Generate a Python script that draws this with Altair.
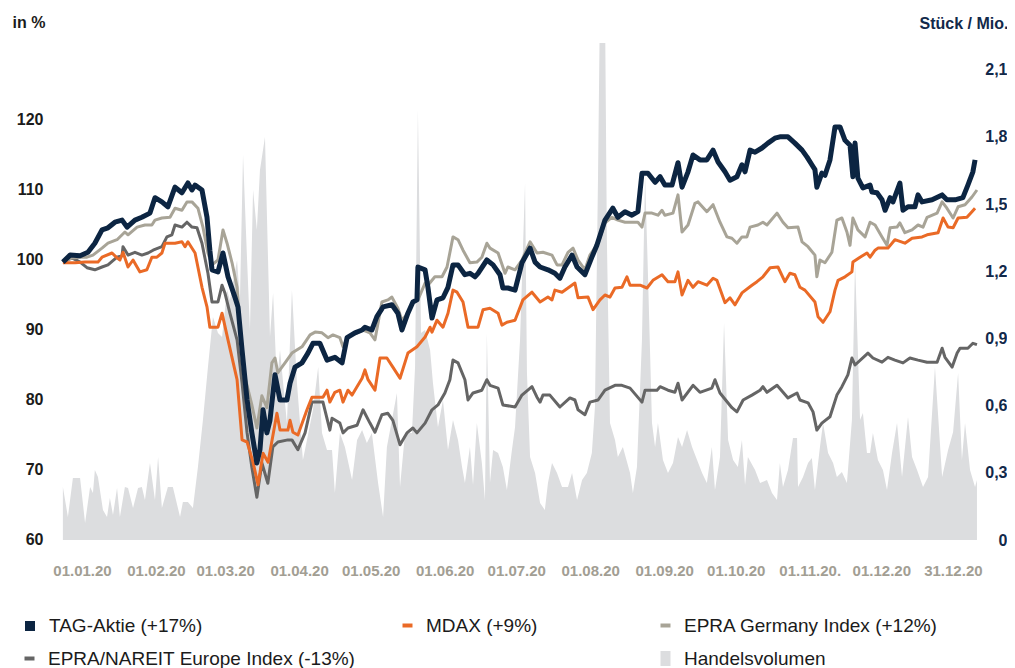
import altair as alt
import pandas as pd

# ---- data: (days since 01.01.2020, value) ----
tag = [(-8.0,99.7),(-5.0,100.7),(-0.8,100.6),(2.5,101.1),(5.4,102.4),(8.4,104.3),(10.9,104.6),(13.8,105.4),(16.8,105.7),(18.9,104.7),(22.2,105.7),(25.1,106.1),(28.5,106.7),(30.6,108.9),(33.5,108.3),(36.0,107.6),(39.0,110.4),(41.9,109.6),(44.4,111.0),(46.1,110.0),(47.4,110.7),(50.3,110.0),(52.4,106.1),(53.6,101.4),(54.5,98.6),(57.0,98.3),(59.1,101.0),(61.2,97.6),(64.1,94.7),(65.4,93.3),(67.1,87.1),(69.2,80.0),(71.2,75.3),(73.3,71.0),(74.6,72.9),(75.9,78.6),(77.5,75.3),(78.8,77.1),(80.9,83.6),(83.0,80.0),(85.9,80.0),(87.2,82.4),(89.3,84.7),(92.2,85.3),(94.7,86.7),(96.8,88.1),(99.7,88.1),(102.7,85.7),(106.0,86.1),(109.0,85.3),(111.1,88.9),(114.4,89.6),(117.4,90.0),(118.6,90.4),(121.5,90.0),(123.6,91.9),(126.2,93.3),(129.9,93.6),(132.4,92.4),(134.1,90.0),(136.6,92.4),(138.7,94.0),(140.4,94.3),(140.8,99.0),(143.8,98.6),(145.0,96.1),(146.7,91.7),(148.8,94.3),(151.3,94.6),(153.4,96.1),(155.5,99.3),(157.6,99.3),(160.5,97.9),(162.6,98.1),(164.7,97.6),(166.0,98.1),(169.7,100.0),(172.3,99.3),(175.2,97.9),(176.4,96.0),(178.5,96.0),(181.5,95.7),(184.4,99.6),(187.8,101.7),(189.9,99.7),(192.0,99.0),(195.3,98.6),(198.2,98.1),(200.3,97.4),(202.4,99.0),(205.4,100.7),(207.5,99.0),(210.8,97.9),(213.7,100.4),(215.8,102.1),(219.2,105.7),(222.5,107.4),(224.6,106.1),(227.6,106.9),(230.5,106.4),(233.0,106.9),(234.7,112.4),(237.2,112.4),(240.2,111.1),(242.3,111.9),(244.3,110.7),(247.3,110.7),(249.8,113.9),(251.5,110.4),(254.0,112.6),(256.1,115.0),(259.0,114.3),(261.9,114.3),(264.5,115.7),(266.6,114.0),(269.5,112.6),(271.6,111.4),(274.5,111.9),(276.6,113.6),(277.9,112.6),(280.0,115.7),(282.1,115.4),(285.0,116.0),(287.5,116.7),(290.4,117.4),(292.5,117.6),(295.9,117.6),(298.8,116.7),(301.8,115.7),(303.9,114.7),(305.9,113.6),(307.2,112.9),(308.0,110.4),(310.1,112.4),(311.4,112.1),(313.5,114.3),(315.6,119.0),(317.7,119.0),(319.8,117.1),(321.9,116.4),(323.1,111.9),(324.0,116.7),(325.2,111.7),(327.3,110.3),(330.3,110.7),(331.1,109.7),(333.2,109.6),(335.3,108.6),(336.6,107.1),(338.7,108.9),(339.9,108.3),(342.8,111.0),(344.1,107.1),(346.2,107.6),(349.1,107.6),(350.4,109.3),(352.1,108.3),(356.3,108.6),(360.5,109.3),(362.5,108.6),(365.9,108.6),(369.2,108.9),(371.3,110.7),(373.4,112.6),(374.3,114.3)]

mdax = [(-8.0,99.6),(-2.9,99.6),(1.3,99.7),(6.7,99.7),(8.4,100.4),(12.6,101.0),(14.7,100.3),(15.9,100.0),(17.2,101.1),(19.3,99.0),(21.4,100.0),(24.3,98.3),(27.2,98.6),(29.3,100.4),(31.4,100.4),(33.5,101.0),(34.8,102.4),(39.0,102.4),(41.9,102.6),(43.2,101.9),(44.4,102.6),(47.4,101.0),(50.3,96.1),(52.4,93.3),(53.6,90.4),(57.0,90.4),(58.7,92.4),(61.2,88.6),(65.0,82.9),(67.1,74.3),(69.2,74.0),(71.7,71.1),(73.8,67.9),(75.9,72.4),(78.0,71.1),(81.7,78.1),(83.0,75.7),(86.3,75.7),(87.2,77.1),(88.4,75.4),(90.5,75.0),(94.3,78.6),(96.4,80.4),(101.0,80.4),(102.7,81.4),(103.9,79.7),(106.0,81.1),(108.1,81.4),(109.4,79.7),(111.5,81.4),(113.2,80.7),(117.4,83.1),(118.6,84.3),(119.9,82.9),(122.8,81.4),(124.9,86.0),(127.8,86.0),(130.3,84.7),(133.3,83.1),(136.6,86.7),(140.4,87.6),(143.8,89.0),(145.9,90.4),(146.7,89.7),(148.8,91.4),(151.3,90.4),(153.4,92.4),(155.5,95.7),(157.2,95.4),(159.7,94.0),(161.8,90.4),(166.0,90.4),(168.1,92.9),(171.0,93.1),(174.4,92.4),(176.0,90.7),(178.1,91.1),(181.5,91.4),(184.8,94.3),(188.6,95.4),(192.0,94.0),(195.3,94.7),(197.0,94.3),(198.2,95.7),(201.2,95.4),(206.6,96.7),(207.9,94.6),(212.1,94.7),(214.2,92.9),(217.1,94.3),(219.2,95.0),(221.3,94.7),(223.4,96.0),(226.3,96.1),(228.4,97.6),(229.7,96.4),(233.9,96.4),(236.8,96.0),(239.3,97.1),(243.1,97.9),(245.6,96.9),(248.5,96.9),(249.8,98.3),(251.5,95.0),(254.0,97.1),(256.1,96.1),(258.2,96.9),(261.9,96.4),(264.5,97.4),(266.1,97.1),(269.5,93.9),(271.6,94.6),(273.7,93.6),(276.6,95.3),(280.8,96.4),(282.9,96.9),(285.4,97.6),(288.4,98.9),(291.7,99.0),(294.6,96.9),(296.7,98.1),(298.8,97.9),(300.9,96.1),(303.0,95.7),(307.2,94.0),(308.5,91.9),(310.6,91.1),(313.5,92.6),(315.6,95.7),(316.9,97.1),(319.8,97.6),(322.7,98.3),(323.1,99.7),(326.1,100.4),(329.0,101.0),(330.3,100.4),(332.4,101.4),(333.6,101.7),(337.8,101.7),(340.7,102.9),(344.9,102.4),(347.9,103.1),(352.1,103.3),(354.2,103.6),(358.8,103.9),(360.9,106.0),(363.0,104.7),(365.1,104.6),(367.2,106.0),(370.9,106.1),(373.0,106.9),(374.3,107.4)]

epra_de = [(-8.0,99.7),(-4.2,100.3),(-0.8,100.4),(2.1,100.4),(4.6,100.7),(8.4,101.7),(10.9,102.4),(14.7,102.9),(18.0,104.0),(19.3,103.6),(23.1,104.7),(26.4,105.0),(29.3,105.0),(30.6,105.7),(33.5,106.0),(36.9,106.1),(39.0,107.4),(41.9,107.1),(44.0,108.3),(46.1,108.3),(48.6,107.4),(50.7,104.7),(52.8,101.0),(54.5,99.3),(57.0,100.0),(59.1,104.3),(60.8,102.4),(62.9,99.6),(65.0,96.1),(66.2,90.4),(68.3,83.3),(71.2,79.3),(73.3,76.0),(75.4,80.6),(77.5,78.9),(79.6,85.3),(80.9,86.0),(82.1,83.9),(85.1,85.3),(88.0,86.7),(92.2,87.6),(95.6,89.3),(97.7,89.7),(100.6,89.6),(103.1,88.9),(105.2,89.3),(108.1,88.9),(109.4,87.6),(111.5,89.0),(115.3,89.6),(117.8,90.0),(120.7,89.6),(122.8,88.6),(125.7,94.0),(128.2,94.3),(129.9,94.7),(132.4,93.1),(134.1,91.4),(136.6,92.4),(138.7,93.9),(140.8,94.3),(143.8,96.7),(145.0,96.4),(147.9,97.6),(150.9,97.6),(153.0,99.0),(155.5,103.3),(157.6,102.9),(159.7,101.4),(162.6,99.6),(165.5,99.7),(167.6,100.4),(169.7,102.4),(171.0,101.7),(174.4,101.0),(177.3,98.1),(178.5,99.0),(181.5,98.6),(184.4,100.0),(187.8,102.6),(190.7,101.0),(193.2,101.1),(197.0,100.7),(199.1,99.3),(201.2,99.3),(203.7,101.1),(205.8,101.7),(207.9,100.0),(210.8,98.6),(212.9,100.7),(216.3,102.4),(219.2,105.3),(222.1,106.1),(224.6,105.7),(227.6,105.4),(233.0,105.4),(234.7,104.7),(236.0,106.7),(238.9,106.7),(241.4,106.4),(243.1,107.1),(244.3,106.4),(247.7,106.7),(249.8,109.3),(251.5,104.0),(254.0,105.0),(256.9,108.1),(258.2,108.3),(261.9,106.9),(264.5,107.9),(267.4,105.4),(270.3,103.3),(272.4,103.1),(274.5,102.4),(276.6,103.3),(278.7,103.3),(280.0,104.7),(283.3,105.0),(285.4,105.4),(287.1,105.0),(291.3,106.7),(293.8,105.4),(295.9,104.6),(300.1,104.7),(301.8,102.6),(304.3,101.9),(307.2,100.7),(308.0,97.6),(309.3,100.0),(311.4,99.6),(314.3,101.1),(316.4,105.7),(318.5,106.0),(320.6,104.0),(321.9,102.1),(323.1,106.0),(325.2,104.3),(328.2,103.3),(330.3,105.4),(332.4,105.0),(335.3,103.3),(337.4,102.1),(338.7,104.6),(341.6,104.7),(342.8,105.3),(344.9,103.9),(347.9,104.3),(350.4,105.0),(352.5,104.7),(354.2,106.1),(358.4,106.7),(360.5,108.3),(362.5,107.4),(365.1,106.0),(367.2,107.6),(370.1,107.9),(373.0,109.0),(375.1,110.0)]

nareit = [(-8.0,99.7),(-4.2,100.3),(-0.8,99.7),(2.1,98.9),(5.4,98.6),(8.4,99.0),(10.9,99.3),(14.7,100.4),(16.8,100.6),(17.2,101.9),(19.3,100.7),(22.2,101.1),(25.1,100.7),(27.7,101.0),(29.8,101.4),(33.5,101.9),(35.6,103.3),(37.7,103.6),(39.0,105.0),(41.9,104.7),(44.0,105.4),(46.1,104.7),(48.2,104.6),(50.3,102.4),(52.8,98.1),(54.5,94.0),(57.0,94.0),(58.7,96.4),(59.9,95.3),(62.0,92.4),(65.0,88.6),(67.1,82.4),(69.2,75.3),(71.2,70.4),(73.3,66.1),(75.4,71.0),(77.9,68.1),(80.0,73.3),(82.1,74.0),(86.3,74.3),(88.0,74.3),(90.5,72.9),(93.5,75.3),(96.4,79.7),(101.0,79.7),(103.9,75.7),(104.8,77.4),(108.1,76.7),(109.4,75.3),(111.5,76.0),(115.3,76.4),(117.8,78.6),(120.7,76.7),(122.8,75.4),(125.7,77.9),(128.2,78.1),(130.3,77.1),(133.3,73.6),(136.2,75.3),(138.7,76.0),(140.4,75.3),(143.8,76.7),(146.7,78.6),(149.2,79.3),(152.1,81.0),(154.2,82.9),(155.5,85.7),(157.6,85.3),(160.5,82.9),(161.8,80.0),(163.9,81.0),(167.6,81.4),(169.7,82.9),(171.0,82.1),(174.4,81.7),(176.4,79.3),(181.5,79.0),(184.4,80.7),(188.6,81.9),(190.7,80.4),(192.0,79.7),(193.2,80.7),(196.1,80.7),(200.3,79.0),(204.5,80.3),(206.6,80.0),(207.9,78.6),(210.8,77.9),(212.9,79.7),(216.3,80.0),(219.2,81.4),(223.4,82.1),(226.3,82.1),(229.7,81.7),(234.7,79.7),(236.0,81.4),(241.0,81.4),(242.3,81.9),(245.6,81.4),(248.5,81.1),(249.8,82.4),(251.5,80.0),(256.1,82.1),(259.0,81.1),(264.0,81.7),(265.3,82.9),(267.4,81.0),(272.4,78.9),(274.5,78.3),(277.1,80.0),(280.8,80.7),(284.2,81.4),(285.4,81.9),(287.1,81.1),(291.3,82.1),(295.9,80.3),(299.7,81.0),(300.9,80.0),(304.3,79.6),(306.4,78.3),(308.0,75.7),(310.1,76.7),(313.5,77.6),(316.4,80.7),(318.5,81.9),(321.0,83.6),(322.7,86.0),(324.0,85.0),(329.4,86.7),(331.5,86.0),(335.3,85.4),(337.8,86.1),(340.7,85.7),(344.1,85.3),(347.0,86.0),(350.4,85.7),(354.2,85.4),(358.4,85.4),(360.5,87.4),(361.7,86.1),(364.7,84.7),(366.8,86.7),(368.0,87.4),(371.3,87.4),(373.4,88.1),(375.1,87.9)]

# trading volume, million shares
volume = [(-8.0,0.237),(-5.9,0.103),(-3.8,0.277),(-0.8,0.277),(1.3,0.076),(3.4,0.237),(4.6,0.210),(5.4,0.313),(6.7,0.281),(8.8,0.134),(10.5,0.103),(11.7,0.188),(13.0,0.112),(14.7,0.232),(15.9,0.103),(18.0,0.237),(19.3,0.232),(21.4,0.143),(23.5,0.232),(25.1,0.237),(26.4,0.179),(28.5,0.344),(30.6,0.179),(31.9,0.371),(33.5,0.143),(36.0,0.237),(38.1,0.237),(41.1,0.103),(42.3,0.170),(44.4,0.170),(46.5,0.143),(48.6,0.326),(50.7,0.536),(52.8,0.772),(54.9,0.996),(57.0,0.924),(58.7,0.906),(60.8,1.116),(62.0,1.071),(65.0,1.25),(66.2,1.071),(67.5,1.719),(69.2,1.25),(70.4,0.938),(71.7,1.563),(73.3,1.384),(74.6,1.652),(76.7,1.799),(78.8,0.906),(80.1,1.103),(81.7,0.701),(83.0,0.848),(85.9,0.522),(88.0,1.116),(90.1,0.701),(92.6,0.357),(94.3,0.446),(96.8,0.580),(99.0,0.772),(100.6,0.478),(102.7,0.402),(104.8,0.402),(106.0,0.210),(108.1,0.478),(110.2,0.415),(113.2,0.268),(115.3,0.446),(117.4,0.491),(119.4,0.433),(121.5,0.478),(124.1,0.254),(126.2,0.103),(127.8,0.415),(129.9,0.536),(132.0,0.656),(133.3,0.237),(135.4,0.478),(138.3,0.478),(139.6,0.772),(140.8,1.920),(142.1,0.924),(143.8,0.938),(145.9,0.848),(147.1,0.701),(149.2,0.504),(151.3,0.625),(153.4,0.402),(155.5,0.536),(157.6,0.446),(159.3,0.326),(160.5,0.254),(162.6,0.415),(163.9,0.246),(165.5,0.522),(167.6,0.344),(168.9,0.179),(169.7,0.924),(171.0,0.254),(172.3,0.402),(174.4,0.388),(176.4,0.326),(178.1,0.223),(180.2,0.402),(181.5,0.504),(183.6,0.893),(185.7,1.594),(186.5,0.746),(187.8,0.371),(189.9,0.299),(192.0,0.165),(194.0,0.134),(195.3,0.254),(197.0,0.344),(199.1,0.299),(201.2,0.237),(203.7,0.237),(205.4,0.299),(207.5,0.179),(209.6,0.268),(211.6,0.299),(213.7,0.388),(215.0,0.594),(216.3,1.638),(217.1,2.4),(219.2,2.4),(220.0,1.339),(221.3,0.522),(223.4,0.446),(224.6,0.371),(226.7,0.415),(229.7,0.299),(230.9,0.210),(232.6,0.326),(234.7,0.893),(236.0,1.629),(237.2,1.192),(238.9,0.522),(240.2,0.415),(241.4,0.522),(243.5,0.357),(245.6,0.299),(247.7,0.344),(249.8,0.460),(251.5,0.415),(253.6,0.491),(255.7,0.415),(257.8,0.357),(259.9,0.299),(261.9,0.254),(264.0,0.415),(265.3,0.223),(267.4,0.371),(269.1,0.969),(270.8,0.446),(272.9,0.357),(274.9,0.326),(276.6,0.446),(277.9,0.246),(279.1,0.371),(282.1,0.313),(284.2,0.254),(287.1,0.268),(289.2,0.210),(291.3,0.179),(292.5,0.344),(293.8,0.237),(295.9,0.313),(298.0,0.455),(299.7,0.455),(300.1,0.237),(302.2,0.281),(304.3,0.344),(305.9,0.366),(307.2,0.223),(309.3,0.415),(310.6,0.522),(312.7,0.388),(314.8,0.344),(316.4,0.281),(318.5,0.304),(320.6,0.254),(322.7,0.536),(324.0,1.241),(326.1,0.536),(327.3,0.567),(329.0,0.388),(330.3,0.388),(331.5,0.478),(333.6,0.357),(335.7,0.313),(337.4,0.223),(339.5,0.388),(341.6,0.522),(343.7,0.281),(346.2,0.549),(347.9,0.371),(350.0,0.313),(352.5,0.237),(354.6,0.281),(357.5,0.772),(360.5,0.281),(363.0,0.402),(365.1,0.482),(367.2,0.746),(368.8,0.357),(370.1,0.522),(372.2,0.313),(374.3,0.237),(375.1,0.268)]

names = ["TAG-Aktie (+17%)", "MDAX (+9%)", "EPRA Germany Index (+12%)",
         "EPRA/NAREIT Europe Index (-13%)", "Handelsvolumen"]
colors = ["#0c2542", "#ea6a26", "#a8a497", "#656565", "#dcdddf"]

left_ticks = [60, 70, 80, 90, 100, 110, 120]
right_ticks = [0, 0.3, 0.6, 0.9, 1.2, 1.5, 1.8, 2.1]
month_ticks = [alt.DateTime(year=2020, month=m, date=1) for m in range(1, 13)] + \
              [alt.DateTime(year=2020, month=12, date=31)]

BASE = pd.Timestamp("2020-01-01")


def frame(pairs, name):
    return pd.DataFrame({
        "date": [(BASE + pd.Timedelta(days=d)).strftime("%Y-%m-%dT%H:%M:%S") for d, _ in pairs],
        "value": [v for _, v in pairs],
        "series": name,
    })


FONT = "Liberation Sans"
W, H = 920, 507

x_enc = alt.X(
    "date:T",
    scale=alt.Scale(domain=[alt.DateTime(year=2019, month=12, date=22, hours=19),
                            alt.DateTime(year=2021, month=1, date=11, hours=9)], nice=False),
    axis=alt.Axis(title=None, values=month_ticks,
                  labelExpr="timeFormat(datum.value, '%d.%m.%y') + (month(datum.value) == 10 ? '.' : '')",
                  domain=False, ticks=False, grid=False, labelOverlap=False, labelFlush=False,
                  labelFont=FONT, labelFontSize=15, labelFontWeight="bold", labelColor="#a29e93",
                  labelPadding=13),
)

y_left = alt.Y(
    "value:Q",
    scale=alt.Scale(domain=[58.571, 131.0], nice=False, zero=False),
    axis=alt.Axis(values=left_ticks, title="in %", titleAngle=0, titleAlign="left",
                  titleBaseline="middle", titleX=-48, titleY=-21, titleFont=FONT,
                  titleFontSize=16, titleFontWeight="bold", titleColor="#1b1b1b",
                  labelFont=FONT, labelFontSize=16, labelFontWeight="bold", labelColor="#1b1b1b",
                  labelPadding=17, domain=False, ticks=False, grid=False),
)


def leg(x, y, shape, sw, size=100):
    return alt.Legend(orient="none", legendX=x, legendY=y, title=None, symbolType=shape,
                      symbolSize=size, symbolStrokeWidth=sw, labelFont=FONT, labelFontSize=19,
                      labelColor="#1b1b1b", labelOffset=9, labelLimit=600, padding=0)


DASH = "M-1,0H1"


def line_layer(pairs, i, width, legend):
    return alt.Chart(frame(pairs, names[i])).mark_line(strokeJoin="round").encode(
        x=x_enc,
        y=y_left,
        color=alt.Color("series:N", scale=alt.Scale(domain=[names[i]], range=[colors[i]]), legend=legend),
        strokeWidth=alt.value(width),
    )


l_nareit = line_layer(nareit, 3, 3, leg(-40, 606, DASH, 4))
l_epra = line_layer(epra_de, 2, 3, leg(596, 573, DASH, 4))
l_mdax = line_layer(mdax, 1, 3, leg(338, 573, DASH, 4))
l_tag = line_layer(tag, 0, 5, leg(-40, 573, DASH, 10))

lines = alt.layer(l_nareit, l_epra, l_mdax, l_tag).resolve_scale(color="independent")

area = alt.Chart(frame(volume, names[4])).mark_area(clip=True, interpolate="linear").encode(
    x=x_enc,
    y=alt.Y("value:Q",
            scale=alt.Scale(domain=[-0.0446, 2.219], nice=False, zero=False),
            axis=alt.Axis(orient="right", values=right_ticks,
                          labelExpr="datum.value == 0 ? '0' : replace(format(datum.value, '.1f'), '.', ',')",
                          title="Stück / Mio.", titleAngle=0, titleAlign="right", titleBaseline="middle",
                          titleX=28, titleY=-20, titleFont=FONT, titleFontSize=16,
                          titleFontWeight="bold", titleColor="#12294a",
                          labelFont=FONT, labelFontSize=16, labelFontWeight="bold",
                          labelColor="#12294a", labelAlign="right", labelPadding=27,
                          domain=False, ticks=False, grid=False)),
    y2=alt.value(H),
    color=alt.Color("series:N", scale=alt.Scale(domain=[names[4]], range=[colors[4]]),
                    legend=leg(596, 606, "M-1,-1.5H1V1.5H-1Z", 0)),
)

chart = alt.layer(area, lines).resolve_scale(y="independent", color="independent").properties(
    width=W, height=H,
    background="white",
    autosize=alt.AutoSizeParams(type="none"),
    padding={"left": 52, "top": 35, "right": 27, "bottom": 118},
).configure_view(stroke="transparent", strokeWidth=0)

chart.save("out.html", embed_options={"renderer": "svg", "actions": False})
